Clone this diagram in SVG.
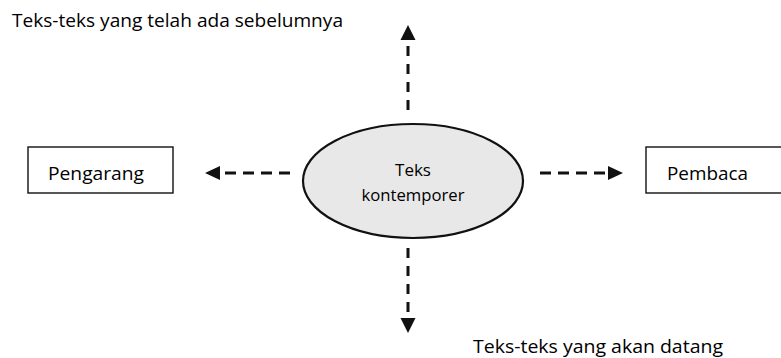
<svg xmlns="http://www.w3.org/2000/svg" width="781" height="358" viewBox="0 0 781 358">
  <style>
    text { font-family: "Open Sans", "Noto Sans", "Liberation Sans", sans-serif; fill: #000; }
    .box { fill: #fff; stroke: #111; stroke-width: 1.4; }
    .core { fill: #e8e8e8; stroke: #111; stroke-width: 2.2; }
    .dash { stroke: #111; stroke-width: 3; stroke-dasharray: 11 7; fill: none; }
    .vdash { stroke: #111; stroke-width: 3; stroke-dasharray: 10 8; fill: none; }
    .head { fill: #111; }
  </style>
  <rect width="781" height="358" fill="#fff"/>

  <g id="connectors">
    <!-- up -->
    <line class="vdash" x1="408" y1="110" x2="408" y2="46"/>
    <polygon class="head" points="408,25 400.5,40 415.5,40"/>
    <!-- down -->
    <line class="vdash" x1="408" y1="248" x2="408" y2="312"/>
    <polygon class="head" points="408,333 400.5,318 415.5,318"/>
    <!-- left -->
    <line class="dash" x1="290" y1="173" x2="224" y2="173"/>
    <polygon class="head" points="205,173 220,166 220,180"/>
    <!-- right -->
    <line class="dash" x1="540" y1="173" x2="606" y2="173"/>
    <polygon class="head" points="623,173 608,166 608,180"/>
  </g>

  <g id="center">
    <ellipse class="core" cx="413" cy="181" rx="110" ry="57"/>
    <text x="413" y="176" font-size="17" text-anchor="middle">Teks</text>
    <text x="413" y="201" font-size="17" text-anchor="middle" textLength="103" lengthAdjust="spacingAndGlyphs">kontemporer</text>
  </g>

  <g id="pengarang">
    <rect class="box" x="28" y="147" width="145" height="46"/>
    <text x="48" y="180" font-size="18.5" textLength="96" lengthAdjust="spacingAndGlyphs">Pengarang</text>
  </g>

  <g id="pembaca">
    <rect class="box" x="646" y="147" width="150" height="46"/>
    <text x="667" y="180" font-size="18.5" textLength="81" lengthAdjust="spacingAndGlyphs">Pembaca</text>
  </g>

  <g id="prior-texts">
    <text x="12" y="27" font-size="19" textLength="331" lengthAdjust="spacingAndGlyphs">Teks-teks yang telah ada sebelumnya</text>
  </g>

  <g id="future-texts">
    <text x="473" y="353" font-size="19" textLength="250" lengthAdjust="spacingAndGlyphs">Teks-teks yang akan datang</text>
  </g>
</svg>
